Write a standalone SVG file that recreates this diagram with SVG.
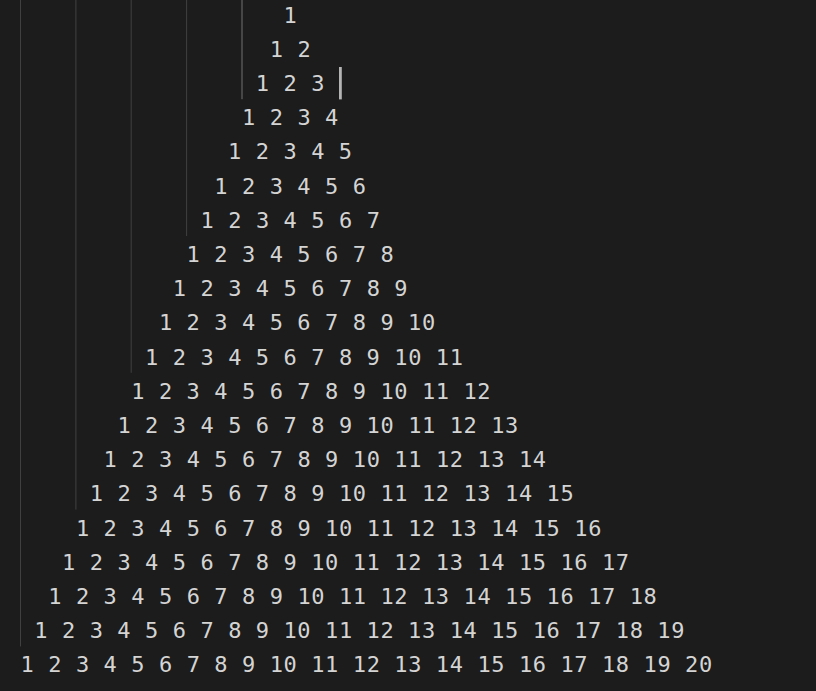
<svg xmlns="http://www.w3.org/2000/svg" width="816" height="691" viewBox="0 0 816 691">
<style>
.t{font-family:"DejaVu Sans Mono","Liberation Mono",monospace;font-size:22px;letter-spacing:0.6px;fill:#d4d4d4;white-space:pre}
.g{stroke:#404040;stroke-width:1}
.ga{stroke:#707070;stroke-width:1}
</style>
<rect width="816" height="691" fill="#1c1c1c"/>
<g id="guides">
<line class="g" x1="20.5" y1="0" x2="20.5" y2="646.4"/>
<line class="g" x1="75.9" y1="0" x2="75.9" y2="509.6"/>
<line class="g" x1="131.2" y1="0" x2="131.2" y2="372.8"/>
<line class="g" x1="186.6" y1="0" x2="186.6" y2="236"/>
<line class="ga" x1="242" y1="0" x2="242" y2="99.2"/>
</g>
<rect id="cursor" x="339" y="67" width="2.8" height="32.4" fill="#b4b4b4"/>
<g id="rows">
<text class="t" x="283.5" y="22.5">1</text>
<text class="t" x="269.7" y="56.7">1 2</text>
<text class="t" x="255.8" y="90.9">1 2 3</text>
<text class="t" x="242.0" y="125.1">1 2 3 4</text>
<text class="t" x="228.1" y="159.3">1 2 3 4 5</text>
<text class="t" x="214.3" y="193.5">1 2 3 4 5 6</text>
<text class="t" x="200.5" y="227.7">1 2 3 4 5 6 7</text>
<text class="t" x="186.6" y="261.9">1 2 3 4 5 6 7 8</text>
<text class="t" x="172.8" y="296.1">1 2 3 4 5 6 7 8 9</text>
<text class="t" x="158.9" y="330.3">1 2 3 4 5 6 7 8 9 10</text>
<text class="t" x="145.1" y="364.5">1 2 3 4 5 6 7 8 9 10 11</text>
<text class="t" x="131.2" y="398.7">1 2 3 4 5 6 7 8 9 10 11 12</text>
<text class="t" x="117.4" y="432.9">1 2 3 4 5 6 7 8 9 10 11 12 13</text>
<text class="t" x="103.6" y="467.1">1 2 3 4 5 6 7 8 9 10 11 12 13 14</text>
<text class="t" x="89.7" y="501.3">1 2 3 4 5 6 7 8 9 10 11 12 13 14 15</text>
<text class="t" x="75.9" y="535.5">1 2 3 4 5 6 7 8 9 10 11 12 13 14 15 16</text>
<text class="t" x="62.0" y="569.7">1 2 3 4 5 6 7 8 9 10 11 12 13 14 15 16 17</text>
<text class="t" x="48.2" y="603.9">1 2 3 4 5 6 7 8 9 10 11 12 13 14 15 16 17 18</text>
<text class="t" x="34.3" y="638.1">1 2 3 4 5 6 7 8 9 10 11 12 13 14 15 16 17 18 19</text>
<text class="t" x="20.5" y="672.3">1 2 3 4 5 6 7 8 9 10 11 12 13 14 15 16 17 18 19 20</text>
</g>
</svg>
